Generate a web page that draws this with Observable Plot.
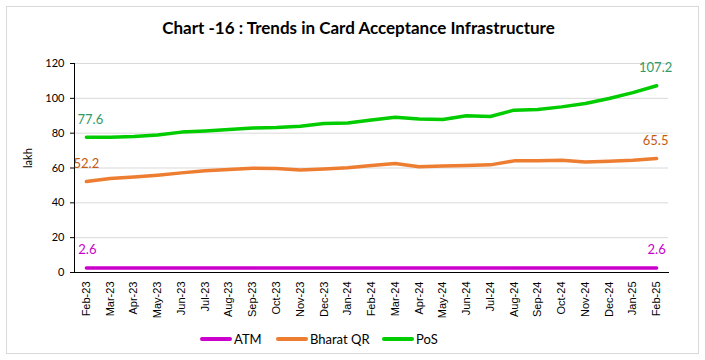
<!DOCTYPE html>
<html><head><meta charset="utf-8">
<script src="https://cdn.jsdelivr.net/npm/d3@7"></script>
<script src="https://cdn.jsdelivr.net/npm/@observablehq/plot@0.6"></script>
<style>
body{margin:0;background:#fff;}
#wrap{position:relative;width:705px;height:360px;font-family:Lato,sans-serif;overflow:hidden;}
#frame{position:absolute;left:6px;top:6px;width:693px;height:348px;border:1px solid #d9d9d9;box-sizing:border-box;}
#title{position:absolute;left:6px;width:705px;top:17px;text-align:center;font-weight:bold;font-size:17px;color:#000;}
#chart{position:absolute;left:0;top:0;}
.leg{position:absolute;top:331px;font-size:13px;color:#000;display:flex;align-items:center;}
.sw{display:inline-block;width:32px;height:4px;border-radius:2px;margin-right:2px;}
</style></head>
<body>
<div id="wrap">
  <div id="frame"></div>
  <div id="title">Chart -16 : Trends in Card Acceptance Infrastructure</div>
  <div id="chart"></div>
  <div id="legend"></div>
</div>
<script>
const months = ["Feb-23","Mar-23","Apr-23","May-23","Jun-23","Jul-23","Aug-23","Sep-23","Oct-23","Nov-23","Dec-23","Jan-24","Feb-24","Mar-24","Apr-24","May-24","Jun-24","Jul-24","Aug-24","Sep-24","Oct-24","Nov-24","Dec-24","Jan-25","Feb-25"];
const atm = [2.6,2.6,2.6,2.6,2.6,2.6,2.6,2.6,2.6,2.6,2.6,2.6,2.6,2.6,2.6,2.6,2.6,2.6,2.6,2.6,2.6,2.6,2.6,2.6,2.6];
const bharatQR = [52.2,54.0,54.8,55.9,57.2,58.4,59.1,59.9,59.7,58.8,59.4,60.1,61.4,62.6,60.7,61.1,61.5,61.8,64.1,64.1,64.5,63.5,63.9,64.5,65.5];
const pos = [77.6,77.7,78.1,78.9,80.6,81.2,82.1,82.9,83.2,84.0,85.5,85.9,87.6,89.2,88.2,87.8,90.0,89.6,93.2,93.6,95.1,97.0,99.9,103.3,107.2];
const seriesNames = ["ATM","Bharat QR","PoS"];
const lineColors = ["#CC00CC","#ED7D31","#00CC00"];
const labelColors = ["#CC00CC","#C55A11","#339966"];
const yTicks = [0,20,40,60,80,100,120];

const seriesValues = [atm, bharatQR, pos];
const data = seriesNames.flatMap((s, k) => seriesValues[k].map((v, i) => ({month: months[i], value: v, series: s})));
const ends = (k) => [
  {month: months[0], value: seriesValues[k][0]},
  {month: months[months.length-1], value: seriesValues[k][months.length-1]}
];

const labelMark = (k, dxFirst, dxLast, dy) => [
  Plot.text([ends(k)[0]], {x:"month", y:"value", text: d => d.value.toFixed(1), fill: labelColors[k], dy, dx: dxFirst, fontSize: 13}),
  Plot.text([ends(k)[1]], {x:"month", y:"value", text: d => d.value.toFixed(1), fill: labelColors[k], dy, dx: dxLast, fontSize: 13})
];

const chart = Plot.plot({
  width: 705, height: 330,
  marginTop: 63, marginBottom: 58, marginLeft: 74, marginRight: 37,
  style: {fontFamily: "Lato, sans-serif", background: "transparent"},
  x: {type: "point", domain: months, padding: 0.5, round: false},
  y: {domain: [0, 120]},
  color: {domain: seriesNames, range: lineColors},
  marks: [
    Plot.gridY(yTicks, {stroke: "#d9d9d9", strokeOpacity: 1}),
    Plot.axisY(yTicks, {tickSize: 4, tickPadding: 6, fontSize: 11, label: null, color: "#000"}),
    Plot.axisX({tickRotate: -90, tickSize: 0, tickPadding: 9, fontSize: 11, fontFamily: "Liberation Sans, Arial, sans-serif", label: null, color: "#000"}),
    Plot.text(["lakh"], {frameAnchor: "left", rotate: -90, dx: -46, fontSize: 11, fill: "#000"}),
    Plot.frame({anchor: "left", stroke: "#000"}),
    Plot.frame({anchor: "bottom", stroke: "#000"}),
    Plot.line(data, {x: "month", y: "value", z: "series", stroke: "series", strokeWidth: 3.5, strokeLinecap: "round"}),
    ...labelMark(0, 1, 0, -18),
    ...labelMark(1, 0, -1, -18),
    ...labelMark(2, 4, -1, -18)
  ]
});
document.getElementById("chart").appendChild(chart);

const legendPos = [200, 276, 382];
const legend = document.getElementById("legend");
seriesNames.forEach((s, k) => {
  const el = document.createElement("div");
  el.className = "leg";
  el.style.left = legendPos[k] + "px";
  el.innerHTML = `<span class="sw" style="background:${lineColors[k]}"></span>${s}`;
  legend.appendChild(el);
});
</script>
</body></html>
